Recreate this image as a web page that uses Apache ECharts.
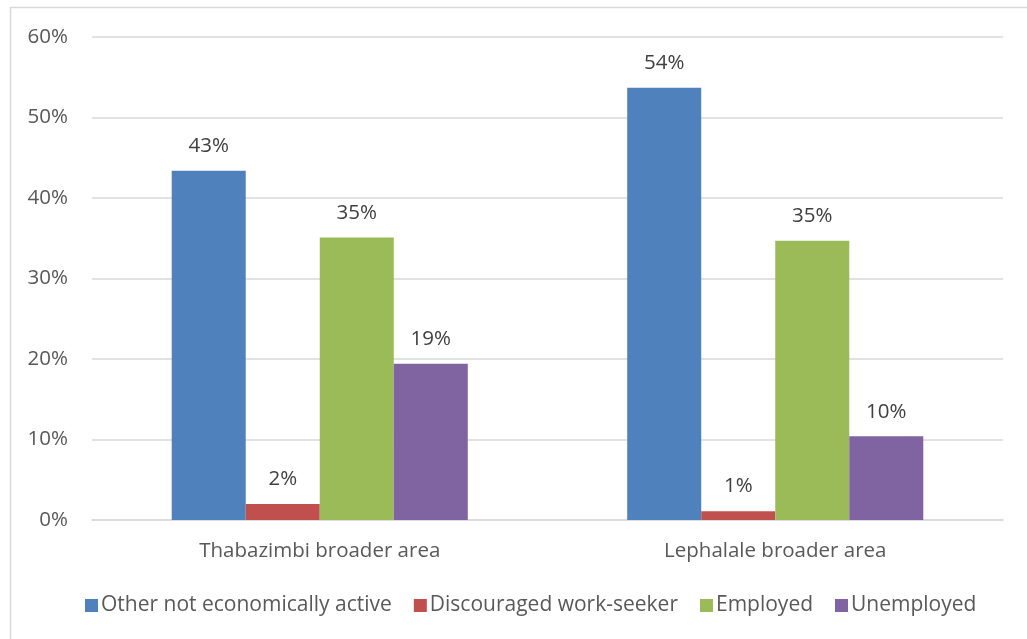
<!DOCTYPE html>
<html><head><meta charset="utf-8">
<script src="https://cdn.jsdelivr.net/npm/echarts@6/dist/echarts.min.js"></script>
<style>html,body{margin:0;padding:0;background:#fff;}#c{width:1027px;height:639px;}</style>
</head><body><div id="c"></div>
<script>
const categories = ['Thabazimbi broader area', 'Lephalale broader area'];
const seriesNames = ['Other not economically active', 'Discouraged work-seeker', 'Employed', 'Unemployed'];
const otherNotActive = [43.4, 53.7];
const discouraged = [2.0, 1.1];
const employed = [35.1, 34.7];
const unemployed = [19.4, 10.4];
const yTicks = [0, 10, 20, 30, 40, 50, 60];
const colors = ['#4f81bd', '#c0504d', '#9bbb59', '#8064a2'];

const font = 'Open Sans';
const chart = echarts.init(document.getElementById('c'));
const values = [otherNotActive, discouraged, employed, unemployed];
chart.setOption({
  animation: false,
  textStyle: { fontFamily: font },
  graphic: [{ type: 'rect', shape: { x: 10.5, y: 7.5, width: 1040, height: 660 }, style: { fill: 'none', stroke: '#d9d9d9', lineWidth: 1.5 }, silent: true }],
  grid: { left: 92, right: 24, top: 37, bottom: 119 },
  legend: {
    bottom: 18, left: 80, itemWidth: 13, itemHeight: 13, itemGap: 22,
    icon: 'rect',
    textStyle: { fontFamily: font, fontSize: 21, color: '#595959', padding: [0, 0, 0, -2] },
    data: seriesNames
  },
  xAxis: {
    type: 'category', data: categories,
    axisLine: { lineStyle: { color: '#d9d9d9', width: 1.5 } },
    axisTick: { show: false },
    axisLabel: { fontFamily: font, fontSize: 20.5, color: '#595959', margin: 21 }
  },
  yAxis: {
    type: 'value', min: yTicks[0], max: yTicks[yTicks.length - 1], interval: 10,
    axisLine: { show: false }, axisTick: { show: false },
    splitLine: { lineStyle: { color: '#d9d9d9', width: 1.5 } },
    axisLabel: { fontFamily: font, fontSize: 20.5, color: '#595959', margin: 24, formatter: v => v + '%' }
  },
  series: seriesNames.map((n, i) => ({
    name: n, type: 'bar', data: values[i],
    barGap: '0%', barCategoryGap: '35%',
    itemStyle: { color: colors[i] },
    label: { show: true, position: 'top', distance: 14, fontFamily: font, fontSize: 20.5, color: '#404040', formatter: p => Math.round(p.value) + '%' }
  }))
});
</script></body></html>
